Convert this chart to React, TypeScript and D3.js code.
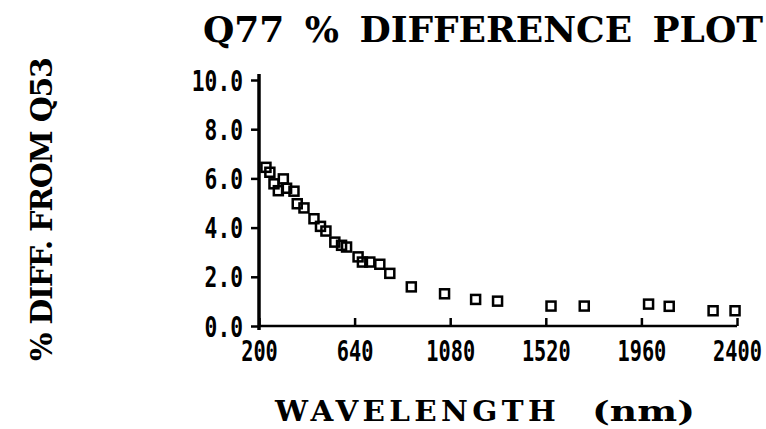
import React from "react";
import * as d3 from "d3";

// wavelength (nm) and % difference
const wavelengths = [
  232, 250, 269, 289, 312, 327, 361, 376, 407, 453, 483, 508, 549, 580, 603,
  656, 676, 710, 756, 802, 901, 1054, 1197, 1298, 1544, 1697, 1993, 2088, 2290, 2391,
];
const pctDiff = [
  6.45, 6.25, 5.78, 5.5, 5.98, 5.6, 5.48, 4.97, 4.8, 4.36, 4.05, 3.86, 3.41, 3.28, 3.21,
  2.81, 2.6, 2.6, 2.51, 2.14, 1.59, 1.31, 1.08, 1.01, 0.81, 0.81, 0.89, 0.8, 0.62, 0.62,
];
const xTicks = [200, 640, 1080, 1520, 1960, 2400];
const yTicks = [0, 2, 4, 6, 8, 10];

const W = 766;
const H = 429;
const left = 259, right = 737, top = 80, bottom = 326;

const App = () => {
  const svgRef = React.useRef<SVGSVGElement>(null);

  React.useEffect(() => {
    const x = d3.scaleLinear().domain([200, 2400]).range([left, right]);
    const y = d3.scaleLinear().domain([0, 10]).range([bottom, top]);

    const svgEl = d3.select(svgRef.current);
    svgEl.selectAll("*").remove();
    const svg = svgEl.append("g");

    // y axis
    const yAxis = d3
      .axisLeft(y)
      .tickValues(yTicks)
      .tickSizeInner(8)
      .tickSizeOuter(0)
      .tickPadding(8)
      .tickFormat((d) => d3.format(".1f")(d as number));
    const yg = svg.append("g").attr("transform", `translate(${left},0)`).call(yAxis);
    yg.select(".domain").remove();
    yg.selectAll("line").attr("stroke", "#000").attr("stroke-width", 2.5);
    yg.selectAll("text")
      .attr("font-family", "DejaVu Sans Mono")
      .attr("font-weight", "bold")
      .attr("font-size", 28)
      .attr("fill", "#000")
      .attr("dy", "0.36em")
      .attr("textLength", (d: any) => d3.format(".1f")(d).length * 12.8)
      .attr("lengthAdjust", "spacingAndGlyphs");

    // x axis
    const xAxis = d3
      .axisBottom(x)
      .tickValues(xTicks)
      .tickSizeInner(-8)
      .tickSizeOuter(0)
      .tickPadding(15)
      .tickFormat((d) => String(d));
    const xg = svg.append("g").attr("transform", `translate(0,${bottom})`).call(xAxis);
    xg.select(".domain").remove();
    xg.selectAll("line").attr("stroke", "#000").attr("stroke-width", 2.5);
    xg.selectAll("text")
      .attr("font-family", "DejaVu Sans Mono")
      .attr("font-weight", "bold")
      .attr("font-size", 28)
      .attr("fill", "#000")
      .attr("textLength", (d: any) => String(d).length * 12.2)
      .attr("lengthAdjust", "spacingAndGlyphs");

    // axis lines
    svg.append("line")
      .attr("x1", left).attr("x2", left)
      .attr("y1", top - 6).attr("y2", bottom + 4)
      .attr("stroke", "#000").attr("stroke-width", 3.5);
    svg.append("line")
      .attr("x1", left).attr("x2", right)
      .attr("y1", bottom).attr("y2", bottom)
      .attr("stroke", "#000").attr("stroke-width", 2.5);

    // square markers
    const pts = wavelengths.map((w, i) => ({ w, v: pctDiff[i] }));
    svg.selectAll("rect.pt")
      .data(pts)
      .enter()
      .append("rect")
      .attr("class", "pt")
      .attr("x", (d) => x(d.w) - 4.5)
      .attr("y", (d) => y(d.v) - 4.5)
      .attr("width", 9)
      .attr("height", 9)
      .attr("fill", "none")
      .attr("stroke", "#000")
      .attr("stroke-width", 2.5);

    // titles
    svg.append("text")
      .attr("x", 203).attr("y", 42)
      .attr("font-family", "DejaVu Serif")
      .attr("font-weight", "bold")
      .attr("font-size", 36)
      .attr("textLength", 560)
      .attr("lengthAdjust", "spacing")
      .attr("word-spacing", 8)
      .text("Q77 % DIFFERENCE PLOT");

    svg.append("text")
      .attr("transform", "translate(52,361) rotate(-90)")
      .attr("font-family", "DejaVu Serif")
      .attr("font-weight", "bold")
      .attr("font-size", 30)
      .attr("textLength", 304)
      .attr("lengthAdjust", "spacing")
      .text("% DIFF. FROM Q53");

    const xl = svg.append("text")
      .attr("y", 421)
      .attr("font-family", "DejaVu Serif")
      .attr("font-weight", "bold")
      .attr("font-size", 27)
      .attr("letter-spacing", 4);
    xl.append("tspan")
      .attr("x", 275)
      .attr("textLength", 285)
      .attr("lengthAdjust", "spacingAndGlyphs")
      .text("WAVELENGTH");
    xl.append("tspan")
      .attr("x", 592)
      .attr("letter-spacing", 0)
      .attr("textLength", 103)
      .attr("lengthAdjust", "spacingAndGlyphs")
      .text("(nm)");
  }, []);

  return (
    <svg
      ref={svgRef}
      width={W}
      height={H}
      style={{ position: "absolute", left: 0, top: 0, background: "#fff" }}
    />
  );
};

export default App;
